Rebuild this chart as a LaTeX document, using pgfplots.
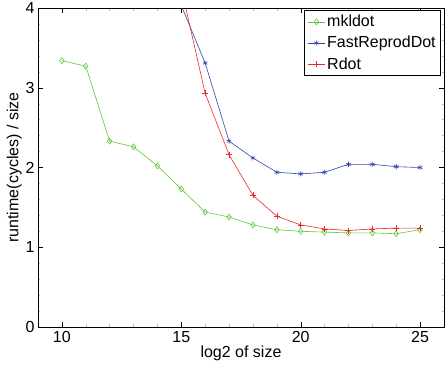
\documentclass[border=0pt]{standalone}
\usepackage{fontspec}
\setmainfont{Liberation Sans}
\usepackage{pgfplots}
\pgfplotsset{compat=1.18}
\definecolor{cgreen}{RGB}{95,200,60}
\definecolor{cblue}{RGB}{50,70,170}
\definecolor{cred}{RGB}{235,40,40}
\begin{document}
\begin{tikzpicture}
\path[use as bounding box] (-38pt,-51pt) rectangle (407pt,327pt);
\begin{axis}[
  at={(0,0)}, anchor=south west,
  scale only axis, width=406pt, height=319pt,
  xmin=9, xmax=26, ymin=0, ymax=4,
  xtick={10,15,20,25}, ytick={0,1,2,3,4},
  minor x tick num=4, minor y tick num=4,
  tick align=inside,
  major tick length=5pt, minor tick length=2.5pt,
  every minor tick/.style={gray!50, thin},
  every major tick/.style={black, thin},
  axis line style={black, line width=0.9pt},
  tick label style={font=\fontsize{16}{18}\selectfont},
  /pgf/number format/assume math mode=true,
  xticklabel style={yshift=-1pt},
  xlabel={log2 of size},
  ylabel={runtime(cycles) / size},
  label style={font=\fontsize{16}{18}\selectfont},
  xlabel style={yshift=4pt},
  ylabel style={yshift=-3pt},
  clip marker paths=true,
  legend style={at={(1,1)}, anchor=north east, xshift=-3pt, yshift=-2pt,
    draw=black, line width=0.6pt, font=\fontsize{16}{19}\selectfont,
    inner xsep=3pt, inner ysep=3pt, row sep=4pt, cells={anchor=west}},
  legend image post style={line width=0.6pt},
]
\addplot[cgreen, line width=0.6pt, mark=diamond, mark size=3pt, mark options={solid, cgreen}] coordinates {
(10,3.34) (11,3.27) (12,2.33) (13,2.26) (14,2.02) (15,1.73) (16,1.44) (17,1.38)
(18,1.28) (19,1.22) (20,1.20) (21,1.19) (22,1.18) (23,1.18) (24,1.17) (25,1.22)};
\addlegendentry{mkldot}
\addplot[cblue, line width=0.6pt, mark=asterisk, mark size=2.6pt, mark options={solid, cblue}] coordinates {
(14,7.0) (15,4.03) (16,3.31) (17,2.33) (18,2.12) (19,1.94) (20,1.92) (21,1.94)
(22,2.04) (23,2.04) (24,2.01) (25,2.00)};
\addlegendentry{FastReprodDot}
\addplot[cred, line width=0.6pt, mark=+, mark size=3pt, mark options={solid, cred}] coordinates {
(14,7.5) (15,4.25) (16,2.93) (17,2.16) (18,1.65) (19,1.39) (20,1.28) (21,1.23)
(22,1.21) (23,1.23) (24,1.24) (25,1.24)};
\addlegendentry{Rdot}
\end{axis}
\end{tikzpicture}
\end{document}
